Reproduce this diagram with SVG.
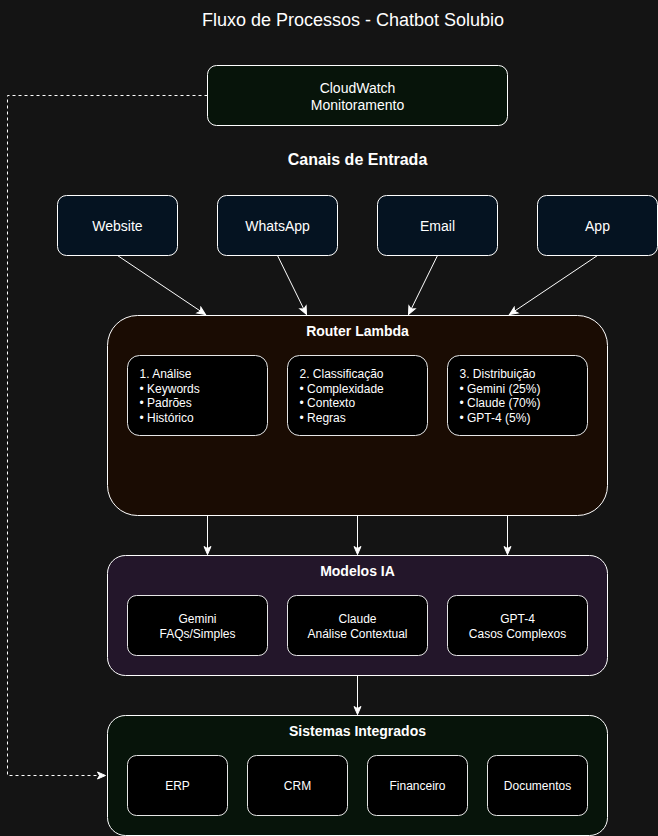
<svg xmlns="http://www.w3.org/2000/svg" width="658" height="836" viewBox="0 0 658 836">
<style>
text{font-family:"Liberation Sans",Arial,sans-serif;fill:#ffffff}
.t14{font-size:14px;text-anchor:middle}
.t12{font-size:12px;text-anchor:middle}
.tl{font-size:12px}
.hd{font-size:14px;font-weight:bold;text-anchor:middle}
.box{stroke:#ffffff;stroke-width:1}
.in{fill:#000000;stroke:#e6e6e6;stroke-width:1}
.ch{fill:#051321}
.gr{fill:#07140a}
.rt{fill:#1a0c03}
.md{fill:#23162a}
.edge{fill:none;stroke:#ffffff;stroke-width:1}
.dash{stroke-dasharray:3 3}
</style>
<defs>
<marker id="arr" markerUnits="userSpaceOnUse" markerWidth="10" markerHeight="10" viewBox="0 0 10 10" refX="9" refY="5" orient="auto">
<path d="M1,1.5 L9,5 L1,8.5 L3,5 Z" fill="#ffffff" stroke="#ffffff" stroke-width="1"/>
</marker>
</defs>
<rect x="0" y="0" width="658" height="836" fill="#141414"/>
<text x="353" y="26" style="font-size:18px;text-anchor:middle">Fluxo de Processos - Chatbot Solubio</text>
<g transform="translate(0.5,0.5)">
<g id="connectors">
<path class="edge dash" d="M207,95 L7,95 L7,775 L105,775" marker-end="url(#arr)"/>
<path class="edge" d="M117,255 L205,314" marker-end="url(#arr)"/>
<path class="edge" d="M277,255 L306,314" marker-end="url(#arr)"/>
<path class="edge" d="M437,255 L408,314" marker-end="url(#arr)"/>
<path class="edge" d="M597,255 L509,314" marker-end="url(#arr)"/>
<path class="edge" d="M207,515 L207,554" marker-end="url(#arr)"/>
<path class="edge" d="M357,515 L357,554" marker-end="url(#arr)"/>
<path class="edge" d="M507,515 L507,554" marker-end="url(#arr)"/>
<path class="edge" d="M357,675 L357,714" marker-end="url(#arr)"/>
</g>
<g id="cloudwatch">
<rect class="box gr" x="207" y="65" width="300" height="60" rx="9"/>
<text class="t14" x="357" y="92">CloudWatch</text>
<text class="t14" x="357" y="109">Monitoramento</text>
</g>
<text x="357" y="164" style="font-size:16px;font-weight:bold;text-anchor:middle">Canais de Entrada</text>
<g id="website">
<rect class="box ch" x="57" y="195" width="120" height="60" rx="9"/>
<text class="t14" x="117" y="230">Website</text>
</g>
<g id="whatsapp">
<rect class="box ch" x="217" y="195" width="120" height="60" rx="9"/>
<text class="t14" x="277" y="230">WhatsApp</text>
</g>
<g id="email">
<rect class="box ch" x="377" y="195" width="120" height="60" rx="9"/>
<text class="t14" x="437" y="230">Email</text>
</g>
<g id="app">
<rect class="box ch" x="537" y="195" width="120" height="60" rx="9"/>
<text class="t14" x="597" y="230">App</text>
</g>
<g id="router">
<rect class="box rt" x="107" y="315" width="500" height="200" rx="30"/>
<text class="hd" x="357" y="335">Router Lambda</text>
</g>
<g id="analise">
<rect class="in" x="127" y="355" width="140" height="80" rx="12"/>
<text class="tl" x="139" y="377.5">1. Análise</text>
<text class="tl" x="139" y="392">• Keywords</text>
<text class="tl" x="139" y="406.5">• Padrões</text>
<text class="tl" x="139" y="421">• Histórico</text>
</g>
<g id="classificacao">
<rect class="in" x="287" y="355" width="140" height="80" rx="12"/>
<text class="tl" x="299" y="377.5">2. Classificação</text>
<text class="tl" x="299" y="392">• Complexidade</text>
<text class="tl" x="299" y="406.5">• Contexto</text>
<text class="tl" x="299" y="421">• Regras</text>
</g>
<g id="distribuicao">
<rect class="in" x="447" y="355" width="140" height="80" rx="12"/>
<text class="tl" x="459" y="377.5">3. Distribuição</text>
<text class="tl" x="459" y="392">• Gemini (25%)</text>
<text class="tl" x="459" y="406.5">• Claude (70%)</text>
<text class="tl" x="459" y="421">• GPT-4 (5%)</text>
</g>
<g id="modelos">
<rect class="box md" x="107" y="555" width="500" height="120" rx="18"/>
<text class="hd" x="357" y="575">Modelos IA</text>
</g>
<g id="gemini">
<rect class="in" x="127" y="595" width="140" height="60" rx="9"/>
<text class="t12" x="197" y="622.5">Gemini</text>
<text class="t12" x="197" y="637">FAQs/Simples</text>
</g>
<g id="claude">
<rect class="in" x="287" y="595" width="140" height="60" rx="9"/>
<text class="t12" x="357" y="622.5">Claude</text>
<text class="t12" x="357" y="637">Análise Contextual</text>
</g>
<g id="gpt4">
<rect class="in" x="447" y="595" width="140" height="60" rx="9"/>
<text class="t12" x="517" y="622.5">GPT-4</text>
<text class="t12" x="517" y="637">Casos Complexos</text>
</g>
<g id="sistemas">
<rect class="box gr" x="107" y="715" width="500" height="120" rx="18"/>
<text class="hd" x="357" y="735">Sistemas Integrados</text>
</g>
<g id="erp">
<rect class="in" x="127" y="755" width="100" height="60" rx="9"/>
<text class="t12" x="177" y="789">ERP</text>
</g>
<g id="crm">
<rect class="in" x="247" y="755" width="100" height="60" rx="9"/>
<text class="t12" x="297" y="789">CRM</text>
</g>
<g id="financeiro">
<rect class="in" x="367" y="755" width="100" height="60" rx="9"/>
<text class="t12" x="417" y="789">Financeiro</text>
</g>
<g id="documentos">
<rect class="in" x="487" y="755" width="100" height="60" rx="9"/>
<text class="t12" x="537" y="789">Documentos</text>
</g>
</g>
</svg>
